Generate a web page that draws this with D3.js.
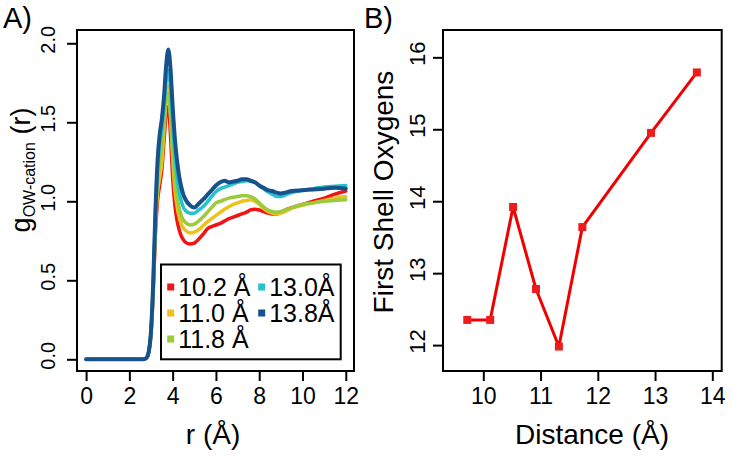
<!DOCTYPE html>
<html><head><meta charset="utf-8">
<script src="https://cdn.jsdelivr.net/npm/d3@7"></script>
<style>
body{margin:0;background:#fff}
svg{display:block}
text{font-family:"Liberation Sans",Arial,Helvetica,sans-serif;fill:#000}
</style>
</head><body>
<svg id="c" width="733" height="456"></svg>
<script>
// ---------- Panel A data: radial distribution g(r) ----------
const rValues = [0,0.5,1,1.5,2,2.5,2.7,2.8,2.9,
  3.0,3.1,3.2,3.3,3.4,3.5,3.6,3.7,3.8,3.9,4.0,4.1,4.2,4.3,4.4,4.5,4.6,
  4.8,5.0,5.2,5.4,5.6,5.8,6.0,6.2,6.4,6.6,6.8,7.0,7.2,7.4,7.6,7.8,8.0,8.2,8.4,8.6,8.8,9.0,9.2,
  9.5,10.0,10.5,11.0,11.5,12.0];
const g102 = [0,0,0,0,0,0,0.002,0.01,0.05,
  0.16,0.42,0.78,1.0,1.1,1.2,1.38,1.55,1.6,1.42,1.15,0.98,0.88,0.82,0.78,0.755,0.74,
  0.73,0.735,0.76,0.79,0.825,0.84,0.85,0.86,0.875,0.89,0.9,0.91,0.92,0.93,0.945,0.95,0.945,0.935,0.925,0.92,0.92,0.93,0.945,
  0.96,0.98,1.0,1.02,1.045,1.065];
const g110 = [0,0,0,0,0,0,0.002,0.01,0.05,
  0.17,0.44,0.82,1.05,1.15,1.25,1.45,1.65,1.73,1.55,1.28,1.08,0.97,0.9,0.855,0.83,0.815,
  0.8,0.805,0.82,0.845,0.87,0.89,0.91,0.93,0.95,0.965,0.98,0.99,1.0,1.005,1.01,1.0,0.98,0.955,0.935,0.925,0.92,0.925,0.935,
  0.955,0.975,0.99,1.005,1.02,1.03];
const g118 = [0,0,0,0,0,0,0.002,0.01,0.05,
  0.17,0.45,0.85,1.12,1.25,1.35,1.5,1.64,1.68,1.55,1.32,1.15,1.03,0.96,0.91,0.88,0.865,
  0.85,0.855,0.875,0.9,0.93,0.96,0.99,1.0,1.01,1.02,1.025,1.03,1.035,1.035,1.03,1.015,0.99,0.965,0.945,0.935,0.93,0.935,0.945,
  0.96,0.98,0.99,1.0,1.005,1.01];
const g130 = [0,0,0,0,0,0,0.002,0.01,0.05,
  0.18,0.47,0.9,1.2,1.36,1.46,1.6,1.76,1.83,1.72,1.5,1.3,1.16,1.06,1.0,0.96,0.94,
  0.925,0.925,0.945,0.965,0.995,1.03,1.06,1.08,1.09,1.1,1.11,1.12,1.125,1.13,1.13,1.12,1.1,1.08,1.06,1.045,1.03,1.03,1.04,
  1.055,1.07,1.08,1.09,1.095,1.1];
const g138 = [0,0,0,0,0,0,0.002,0.01,0.05,
  0.18,0.48,0.92,1.25,1.42,1.52,1.66,1.86,1.96,1.84,1.6,1.4,1.26,1.16,1.09,1.04,1.01,
  0.975,0.96,0.985,1.01,1.04,1.07,1.1,1.12,1.13,1.12,1.125,1.13,1.14,1.14,1.13,1.12,1.1,1.085,1.07,1.065,1.055,1.05,1.055,
  1.065,1.07,1.075,1.08,1.085,1.08];
const seriesNames = ["10.2 Å","11.0 Å","11.8 Å","13.0Å","13.8Å"];
const seriesColors = ["#f01414","#ecc21c","#9bcb3c","#22c3cc","#17528d"];
const xTicksA = [0,2,4,6,8,10,12];
const yTicksA = [0,0.5,1,1.5,2];

// ---------- Panel B data ----------
const distance = [9.72,10.12,10.52,10.92,11.32,11.73,12.93,13.73];
const oxygens  = [12.35,12.35,13.92,12.78,11.98,13.64,14.95,15.79];
const xTicksB = [10,11,12,13,14];
const yTicksB = [12,13,14,15,16];

const svg = d3.select("#c");
const FONT = '"Liberation Sans",Arial,Helvetica,sans-serif';

const A = {l:77,r:354,t:30,b:371};
const xA = d3.scaleLinear().domain([-0.42,12.38]).range([A.l,A.r]);
const yA = d3.scaleLinear().domain([-0.074,2.084]).range([A.b,A.t]);

const B = {l:443,r:721.7,t:30,b:371};
const xB = d3.scaleLinear().domain([9.296,14.164]).range([B.l,B.r]);
const yB = d3.scaleLinear().domain([11.64,16.38]).range([B.b,B.t]);

function bottomAxis(scale, ticks, y, fs){
  const g = svg.append("g").attr("transform",`translate(0,${y})`)
    .call(d3.axisBottom(scale).tickValues(ticks).tickSize(10).tickPadding(7).tickFormat(d3.format("d")));
  g.attr("font-family",FONT).attr("font-size",fs);
  g.select(".domain").remove();
  g.selectAll(".tick line").attr("stroke","#000").attr("stroke-width",2);
  g.selectAll(".tick text").attr("fill","#000");
  return g;
}
function leftAxis(scale, ticks, x, fs, fmt, off){
  const g = svg.append("g").attr("transform",`translate(${x},0)`)
    .call(d3.axisLeft(scale).tickValues(ticks).tickSize(10).tickFormat(fmt));
  g.attr("font-family",FONT).attr("font-size",fs);
  g.select(".domain").remove();
  g.selectAll(".tick line").attr("stroke","#000").attr("stroke-width",2);
  g.selectAll(".tick text").attr("fill","#000").attr("x",0).attr("dy",null)
    .attr("text-anchor","middle").attr("transform",`translate(${-off},-4) rotate(-90)`);
  return g;
}

// ---------- Panel A ----------
bottomAxis(xA, xTicksA, A.b, 23);
leftAxis(yA, yTicksA, A.l, 20, d3.format(".1f"), 22);

const series = [g102,g110,g118,g130,g138];
const lineA = d3.line().x((d,i)=>xA(rValues[i])).y(d=>yA(d)).curve(d3.curveMonotoneX);
series.forEach((s,k)=>{
  svg.append("path").datum(s).attr("d",lineA).attr("fill","none")
    .attr("stroke",seriesColors[k]).attr("stroke-width",k===4?4:3.5)
    .attr("stroke-linejoin","round").attr("stroke-linecap","round");
});
svg.append("rect").attr("x",A.l).attr("y",A.t).attr("width",A.r-A.l).attr("height",A.b-A.t)
  .attr("fill","none").attr("stroke","#000").attr("stroke-width",2);

// legend
const leg = {l:161,t:264.5,r:340.7,b:359.3};
svg.append("rect").attr("x",leg.l).attr("y",leg.t).attr("width",leg.r-leg.l).attr("height",leg.b-leg.t)
  .attr("fill","#fff").attr("stroke","#000").attr("stroke-width",2);
const legPos = [[0,0],[0,1],[0,2],[1,0],[1,1]];
seriesNames.forEach((n,k)=>{
  const [c,rw] = legPos[k];
  const mx = c===0?170.7:261.7;
  const by = 296 + rw*26;
  svg.append("rect").attr("x",mx-3.5).attr("y",by-12.5).attr("width",7).attr("height",7).attr("fill",seriesColors[k]);
  svg.append("text").attr("x",mx+7.5).attr("y",by).attr("font-size",25).text(n);
});

// titles A
svg.append("text").attr("x",213).attr("y",444).attr("text-anchor","middle").attr("font-size",28).text("r (Å)");
const ty = svg.append("text").attr("transform","translate(30,170) rotate(-90)").attr("text-anchor","middle").attr("font-size",27);
ty.append("tspan").text("g");
ty.append("tspan").attr("font-size",16).attr("dy",5).text("OW-cation");
ty.append("tspan").attr("dy",-5).text(" (r)");
svg.append("text").attr("x",3).attr("y",28).attr("font-size",29).text("A)");

// ---------- Panel B ----------
bottomAxis(xB, xTicksB, B.b, 23);
leftAxis(yB, yTicksB, B.l, 22, d3.format("d"), 18);
const lineB = d3.line().x((d,i)=>xB(distance[i])).y(d=>yB(d));
svg.append("path").datum(oxygens).attr("d",lineB).attr("fill","none")
  .attr("stroke","#f20000").attr("stroke-width",3).attr("stroke-linejoin","round");
svg.selectAll(".mk").data(oxygens).enter().append("rect")
  .attr("x",(d,i)=>xB(distance[i])-4).attr("y",d=>yB(d)-4).attr("width",8).attr("height",8)
  .attr("fill","#ee1c1c");
svg.append("rect").attr("x",B.l).attr("y",B.t).attr("width",B.r-B.l).attr("height",B.b-B.t)
  .attr("fill","none").attr("stroke","#000").attr("stroke-width",2);
svg.append("text").attr("x",592).attr("y",444).attr("text-anchor","middle").attr("font-size",28).text("Distance (Å)");
svg.append("text").attr("transform","translate(393,192) rotate(-90)").attr("text-anchor","middle").attr("font-size",28).text("First Shell Oxygens");
svg.append("text").attr("x",364).attr("y",28).attr("font-size",29).text("B)");
</script>
</body></html>
